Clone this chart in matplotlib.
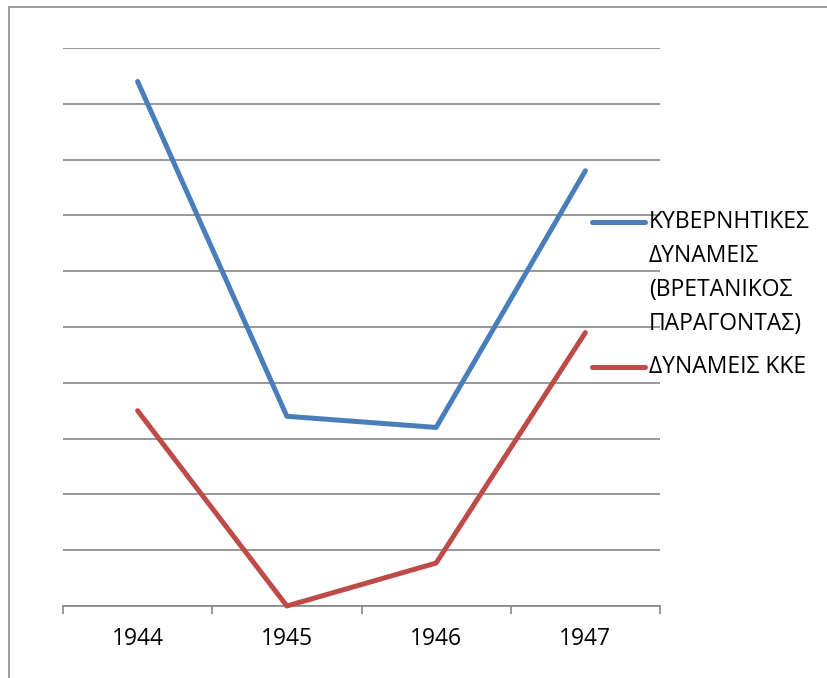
import numpy as np
import matplotlib.pyplot as plt
from matplotlib.patches import Rectangle
from matplotlib.lines import Line2D

plt.rcParams['font.family'] = ['Open Sans', 'DejaVu Sans']

years = ['1944', '1945', '1946', '1947']
gov_forces = [9.4, 3.4, 3.2, 7.8]
kke_forces = [3.5, 0.0, 0.77, 4.9]
labels = ['ΚΥΒΕΡΝΗΤΙΚΕΣ\nΔΥΝΑΜΕΙΣ\n(ΒΡΕΤΑΝΙΚΟΣ\nΠΑΡΑΓΟΝΤΑΣ)', 'ΔΥΝΑΜΕΙΣ ΚΚΕ']
colors = ['#4A7EBB', '#BE4B48']

W, H = 827, 678
fig = plt.figure(figsize=(W / 100, H / 100), dpi=100)
ax = fig.add_axes([63 / W, 1 - 606 / H, (660 - 63) / W, (606 - 48) / H])

x = np.arange(len(years))
ax.plot(x, gov_forces, color=colors[0], lw=3.6, solid_capstyle='round', zorder=3, clip_on=False)
ax.plot(x, kke_forces, color=colors[1], lw=3.6, solid_capstyle='round', zorder=3, clip_on=False)

ax.set_xlim(-0.5, len(years) - 0.5)
ax.set_ylim(0, 10)
ax.set_yticks(np.arange(0, 11))
ax.set_yticklabels([])
ax.tick_params(axis='y', length=0)
ax.grid(axis='y', color='#868686', lw=1.2)
ax.set_axisbelow(True)

ax.set_xticks(x)
ax.set_xticklabels(years, fontsize=16.5)
ax.set_xticks(np.arange(-0.5, len(years)), minor=True)
ax.tick_params(axis='x', which='major', length=0, pad=15)
ax.tick_params(axis='x', which='minor', length=6, width=1.2, color='#868686', direction='out')

for s in ['left', 'right', 'top']:
    ax.spines[s].set_visible(False)
ax.spines['bottom'].set_color('#868686')
ax.spines['bottom'].set_linewidth(1.2)

# frame around the chart area
fig.patches.append(Rectangle((9 / W, -0.1), 1.2, 1 - 7 / H + 0.1, transform=fig.transFigure,
                             fill=False, edgecolor='#8c8c8c', lw=1.2))

# legend drawn by hand
leg_y = [222, 367]
for lab, col, yy in zip(labels, colors, leg_y):
    fy = 1 - yy / H
    fig.add_artist(Line2D([592 / W, 645 / W], [fy, fy], color=col, lw=3.6,
                          solid_capstyle='round', transform=fig.transFigure))
    fig.text(649 / W, 1 - (yy - 12) / H, lab, fontsize=16.5, va='top', ha='left',
             linespacing=1.55, color='black')

fig.savefig('out.png', dpi=100)
